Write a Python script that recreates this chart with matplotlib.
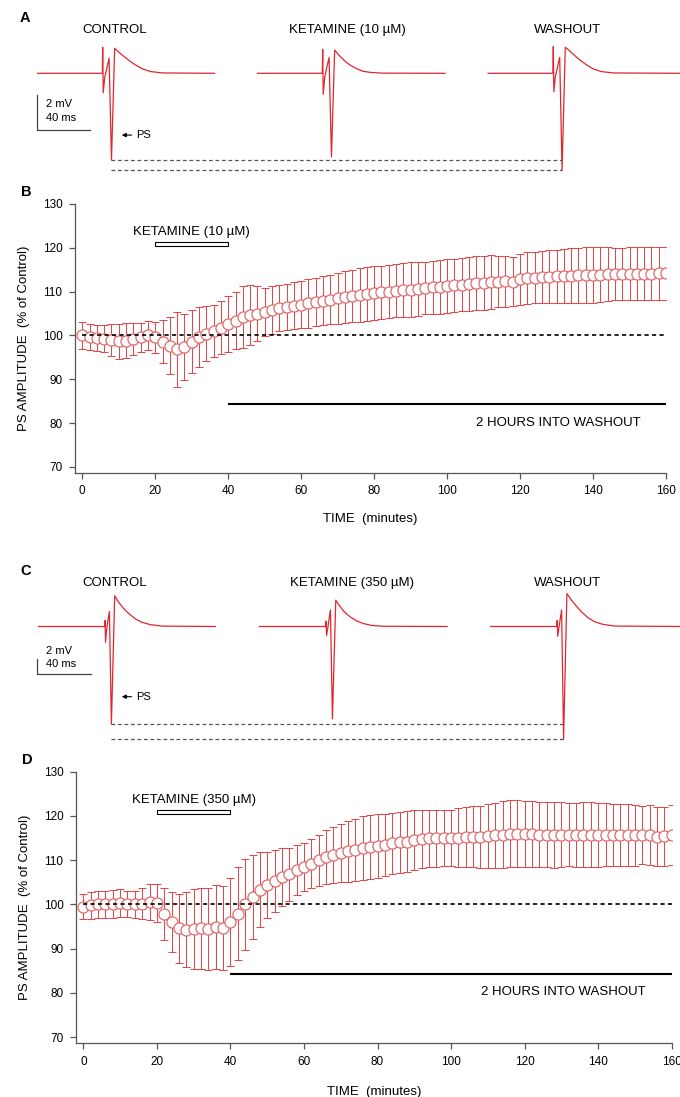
import numpy as np
import matplotlib
matplotlib.use("Agg")
import matplotlib.pyplot as plt
from matplotlib.patches import Rectangle

plt.rcParams['font.family'] = ['Liberation Sans', 'DejaVu Sans']

# ---- field potential traces (ms relative to stimulus, mV relative to baseline) ----
a_t = [-49, -0.3, 0.0, 0.4, 1.5, 3.0, 4.8, 6.6, 9.0, 12, 16, 20, 25, 30, 36, 45, 60]
a_control = [0, 0, 1.49, -1.11, -0.25, 0.25, 0.86, -4.95, 1.43, 1.22, 0.96, 0.72, 0.46, 0.25, 0.10, 0.02, 0]
a_ketamine = [0, 0, 1.37, -1.20, -0.25, 0.30, 0.91, -4.77, 1.33, 1.05, 0.75, 0.50, 0.28, 0.12, 0.05, 0.01, 0]
a_washout = [0, 0, 1.52, -1.05, -0.20, 0.30, 0.91, -5.53, 1.49, 1.30, 1.02, 0.76, 0.48, 0.25, 0.10, 0.02, 0]
a_offsets = [0, 165.4, 338.8]
a_ends = [84, 92, 96]

c_t = [-50, -0.3, 0.0, 0.4, 1.2, 2.2, 3.3, 4.8, 7.3, 10, 14, 18, 23, 28, 34, 43, 60]
c_control = [0, 0, 0.8, -2.1, -0.4, 0.8, 2.0, -13.0, 4.1, 3.3, 2.4, 1.7, 1.0, 0.55, 0.25, 0.05, 0]
c_ketamine = [0, 0, 0.7, -1.2, -0.3, 0.9, 2.2, -12.3, 3.5, 2.8, 1.9, 1.3, 0.75, 0.40, 0.15, 0.03, 0]
c_washout = [0, 0, 0.8, -1.3, -0.3, 0.9, 2.2, -15.0, 4.4, 3.7, 2.8, 2.0, 1.2, 0.65, 0.30, 0.06, 0]
c_offsets = [0, 166.2, 340]
c_ends = [83, 91, 96]

trace_titles_a = ["CONTROL", "KETAMINE (10 µM)", "WASHOUT"]
trace_titles_c = ["CONTROL", "KETAMINE (350 µM)", "WASHOUT"]

# ---- time courses, one point every 2 minutes ----
minutes = np.arange(0, 161, 2)

b_mean = [100.0, 99.6, 99.4, 99.3, 99.0, 98.7, 98.8, 99.2, 99.6, 100.0,
          99.6, 98.6, 97.6, 96.8, 97.4, 98.6, 99.6, 100.4, 101.0, 101.8,
          102.6, 103.4, 104.2, 104.6, 105.0, 105.4, 105.8, 106.2, 106.5, 106.8,
          107.0, 107.3, 107.6, 107.9, 108.2, 108.5, 108.8, 109.0, 109.2, 109.5,
          109.7, 109.8, 110.0, 110.2, 110.3, 110.4, 110.6, 110.8, 111.0, 111.1,
          111.3, 111.4, 111.6, 111.7, 111.9, 112.0, 112.2, 112.3, 112.4, 112.3,
          112.8, 113.1, 113.2, 113.3, 113.4, 113.5, 113.5, 113.6, 113.7, 113.8,
          113.8, 113.9, 114.0, 114.0, 114.0, 114.1, 114.1, 114.1, 114.1, 114.2,
          114.2]
b_sem = [3.0, 3.0, 3.0, 3.0, 3.6, 4.0, 4.0, 3.6, 3.3, 3.3,
         3.5, 5.0, 6.5, 8.5, 7.5, 7.2, 6.8, 6.3, 6.0, 6.0,
         6.3, 6.5, 7.0, 6.8, 6.3, 5.5, 5.4, 5.3, 5.3, 5.4,
         5.4, 5.5, 5.5, 5.6, 5.7, 5.8, 6.0, 6.0, 6.1, 6.1,
         6.2, 6.1, 6.0, 6.1, 6.2, 6.3, 6.2, 6.0, 6.0, 6.1,
         6.2, 6.1, 6.0, 6.1, 6.2, 6.2, 6.1, 5.9, 5.8, 5.6,
         5.8, 5.9, 5.9, 6.0, 6.0, 6.1, 6.2, 6.3, 6.2, 6.3,
         6.3, 6.2, 6.1, 6.0, 6.0, 6.0, 6.0, 6.0, 6.0, 6.0,
         6.0]

d_mean = [99.5, 99.8, 100.0, 100.0, 100.1, 100.3, 100.1, 100.0, 100.2, 100.5,
          100.3, 97.8, 96.0, 94.6, 94.3, 94.5, 94.6, 94.5, 94.8, 94.7,
          96.0, 97.9, 100.0, 101.7, 103.3, 104.4, 105.3, 106.2, 106.8, 107.8,
          108.5, 109.2, 110.0, 110.7, 111.2, 111.6, 112.0, 112.3, 112.7, 113.0,
          113.2, 113.5, 113.8, 114.0, 114.2, 114.5, 114.8, 114.9, 114.9, 115.0,
          115.0, 115.1, 115.2, 115.3, 115.3, 115.5, 115.6, 115.8, 116.0, 116.0,
          115.9, 115.9, 115.8, 115.8, 115.7, 115.8, 115.8, 115.7, 115.8, 115.8,
          115.7, 115.8, 115.7, 115.7, 115.6, 115.6, 115.7, 115.6, 115.3, 115.4,
          115.6]
d_sem = [2.8, 3.0, 3.0, 3.0, 3.2, 3.1, 3.0, 3.1, 3.5, 4.0,
         4.3, 5.8, 6.8, 7.8, 8.5, 9.0, 9.2, 9.3, 9.5, 9.5,
         10.0, 10.5, 10.2, 9.5, 8.5, 7.5, 7.0, 6.5, 6.0, 5.6,
         5.4, 5.5, 5.8, 6.1, 6.3, 6.6, 6.9, 7.1, 7.2, 7.2,
         7.2, 7.0, 6.9, 6.8, 6.9, 6.8, 6.6, 6.4, 6.4, 6.4,
         6.4, 6.6, 6.8, 6.9, 7.0, 7.2, 7.4, 7.5, 7.6, 7.5,
         7.5, 7.5, 7.4, 7.4, 7.4, 7.3, 7.2, 7.2, 7.3, 7.3,
         7.2, 7.1, 7.0, 7.0, 7.0, 6.9, 6.6, 6.8, 6.7, 6.7,
         6.8]

ketamine_window = [20, 40]
washout_start = 40

trace_red = '#e0262e'
err_red = '#dd4a4c'
marker_red = '#e06a6c'

W, H = 680, 1097
fig = plt.figure(figsize=(W / 100, H / 100), dpi=100)


def fig_axes(left, top, right, bottom):
    # pixel box -> figure fraction
    return fig.add_axes([left / W, 1 - bottom / H, (right - left) / W, (bottom - top) / H])


def trace_row(ax, t, traces, offsets, ends, bar_origin, ps_xy, label_pos):
    for v, off, end in zip(traces, offsets, ends):
        x = np.array(list(t[:-1]) + [end]) + off
        ax.plot(x, v, color=trace_red, lw=0.9)
    # dashed reference lines at control and washout troughs
    x0 = t[int(np.argmin(traces[0]))] + offsets[0]
    x1 = t[int(np.argmin(traces[2]))] + offsets[2]
    for v in (traces[0], traces[2]):
        ax.plot([x0, x1], [min(v), min(v)], color='#555555', lw=0.9, dashes=(3, 2.2))
    # scale bar: 2 mV / 40 ms
    bx, by = bar_origin
    ax.plot([bx, bx, bx + 40], [by + 2, by, by], color='#444444', lw=0.9)
    ax.text(label_pos[0], label_pos[1], "2 mV", fontsize=8, va='center', ha='left')
    ax.text(label_pos[0], label_pos[2], "40 ms", fontsize=8, va='center', ha='left')
    ax.annotate("PS", xy=ps_xy, xytext=(ps_xy[0] + 10.5, ps_xy[1]), fontsize=8,
                va='center', ha='left',
                arrowprops=dict(arrowstyle='-|>', color='black', lw=0.8,
                                mutation_scale=6, shrinkA=1, shrinkB=0))
    ax.axis('off')


# ---- panel A ----
ax_a = fig_axes(0, 40, 680, 180)
trace_row(ax_a, a_t, [a_control, a_ketamine, a_washout], a_offsets, a_ends,
          (-49.6, -3.24), (14.3, -3.53), (-42.6, -1.77, -2.57))
ax_a.set_xlim(-102.7 / 1.33, (680 - 102.7) / 1.33)
ax_a.set_ylim(-(180 - 73.3) / 17.5, (73.3 - 40) / 17.5)

# ---- panel C ----
ax_c = fig_axes(0, 585, 680, 745)
trace_row(ax_c, c_t, [c_control, c_ketamine, c_washout], c_offsets, c_ends,
          (-50.9, -6.33), (12.6, -9.36), (-44.4, -3.22, -5.04))
ax_c.set_xlim(-105 / 1.33, (680 - 105) / 1.33)
ax_c.set_ylim(-(745 - 626.5) / 7.5, (626.5 - 585) / 7.5)

for xs, title in zip([115, 347, 567], trace_titles_a):
    fig.text(xs / W, 1 - 30 / H, title, ha='center', va='center', fontsize=9.5)
for xs, title in zip([115, 352, 568], trace_titles_c):
    fig.text(xs / W, 1 - 583 / H, title, ha='center', va='center', fontsize=9.5)


def time_course(ax, mean, sem, drug_label, xpad):
    ax.errorbar(minutes, mean, yerr=sem, fmt='none', ecolor=err_red,
                elinewidth=0.75, capsize=3.2, capthick=0.75, zorder=2)
    ax.plot(minutes, mean, 'o', ms=8, mfc='white', mec=marker_red, mew=0.9, zorder=3)
    ax.hlines(100, minutes[0], minutes[-1], colors='black', lw=1.2,
              linestyles=(0, (2.5, 2)), zorder=4)
    ax.add_patch(Rectangle((ketamine_window[0], 120.35), ketamine_window[1] - ketamine_window[0],
                           1.0, facecolor='white', edgecolor='black', lw=0.8))
    ax.text(np.mean(ketamine_window), 123.6, drug_label, ha='center', va='center', fontsize=9.5)
    ax.hlines(84.3, washout_start, minutes[-1], colors='black', lw=1.5)
    ax.text(130.4, 80.1, "2 HOURS INTO WASHOUT", ha='center', va='center', fontsize=9.5)

    ax.set_xlim(-2, 160)
    ax.set_ylim(68.6, 130)
    ax.set_xticks(np.arange(0, 161, 20))
    ax.set_yticks(np.arange(70, 131, 10))
    for side in ('top', 'right'):
        ax.spines[side].set_visible(False)
    for side in ('left', 'bottom'):
        ax.spines[side].set_color('#555555')
        ax.spines[side].set_linewidth(0.9)
    ax.spines['left'].set_bounds(68.6, 130)
    ax.tick_params(direction='out', length=4, width=0.9, color='#555555',
                   labelsize=8.5, pad=5)
    ax.set_ylabel("PS AMPLITUDE  (% of Control)", fontsize=9.5, labelpad=9)
    ax.set_xlabel("TIME  (minutes)", fontsize=9.5, labelpad=xpad)


ax_b = fig_axes(75, 204, 666, 473)
time_course(ax_b, b_mean, b_sem, "KETAMINE (10 µM)", 11)

ax_d = fig_axes(76, 771.7, 671.7, 1043.3)
time_course(ax_d, d_mean, d_sem, "KETAMINE (350 µM)", 13)

for letter, (xs, ys) in zip("ABCD", [(25, 18), (26, 192), (26, 571), (27, 760)]):
    fig.text(xs / W, 1 - ys / H, letter, ha='center', va='center',
             fontsize=10.5, fontweight='bold')

fig.savefig("out.png", dpi=100)
